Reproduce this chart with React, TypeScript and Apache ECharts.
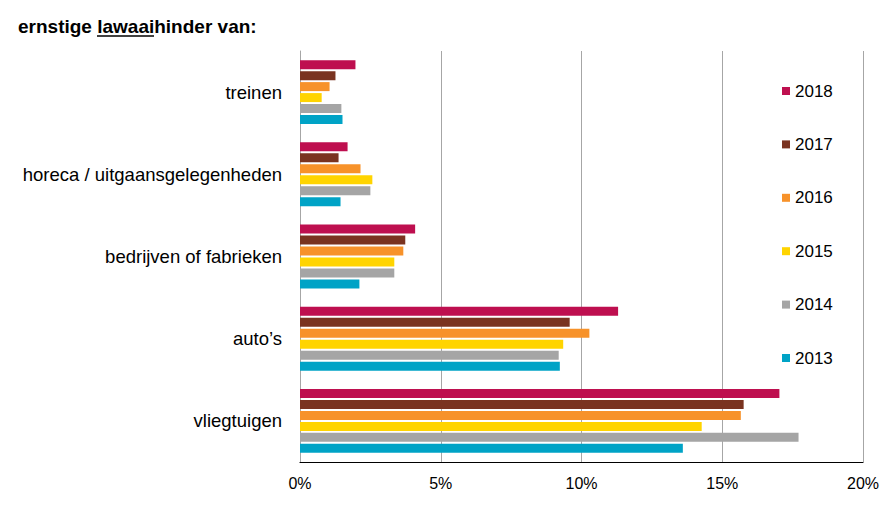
import React, { useEffect, useRef } from "react";
import * as echarts from "echarts";

const categories = [
  "treinen",
  "horeca / uitgaansgelegenheden",
  "bedrijven of fabrieken",
  "auto’s",
  "vliegtuigen",
];

const years = ["2018", "2017", "2016", "2015", "2014", "2013"];

const values2018 = [1.97, 1.69, 4.09, 11.3, 17.03];
const values2017 = [1.26, 1.37, 3.74, 9.58, 15.76];
const values2016 = [1.05, 2.15, 3.67, 10.28, 15.66];
const values2015 = [0.77, 2.57, 3.35, 9.35, 14.27];
const values2014 = [1.47, 2.5, 3.35, 9.19, 17.71];
const values2013 = [1.51, 1.44, 2.11, 9.23, 13.6];

const seriesValues = [values2018, values2017, values2016, values2015, values2014, values2013];
const colors = ["#BE0F4F", "#7A3320", "#F7922A", "#FFD400", "#A5A5A5", "#00A3C6"];

const xTicks = [0, 5, 10, 15, 20];

export default function App() {
  const ref = useRef<HTMLDivElement>(null);
  useEffect(() => {
    if (!ref.current) return;
    const chart = echarts.init(ref.current, null, { renderer: "svg" });
    const font = "'Liberation Sans', Arial, sans-serif";
    chart.setOption({
      animation: false,
      backgroundColor: "#ffffff",
      textStyle: { fontFamily: font },
      grid: { left: 300, right: 32, top: 51, bottom: 44, containLabel: false },
      xAxis: {
        type: "value",
        min: xTicks[0],
        max: xTicks[xTicks.length - 1],
        interval: 5,
        axisLine: { show: true, lineStyle: { color: "#000000", width: 1.2 } },
        axisTick: { show: false },
        axisLabel: {
          formatter: "{value}%",
          fontSize: 16,
          color: "#000000",
          margin: 13,
          fontFamily: font,
        },
        splitLine: { show: true, lineStyle: { color: "#A6A6A6", width: 1 } },
      },
      yAxis: {
        type: "category",
        data: categories,
        inverse: true,
        axisLine: { show: true, lineStyle: { color: "#A6A6A6", width: 1 } },
        axisTick: { show: false },
        axisLabel: { fontSize: 18.5, color: "#000000", margin: 18, fontFamily: font },
        splitLine: { show: false },
      },
      legend: {
        orient: "vertical",
        left: 782,
        top: 81,
        padding: 0,
        data: years,
        itemWidth: 8,
        itemHeight: 8,
        itemGap: 33.4,
        icon: "rect",
        textStyle: { fontSize: 17, color: "#000000", fontFamily: font, lineHeight: 20 },
      },
      graphic: [
        {
          type: "text",
          left: 18,
          top: 17,
          style: {
            text: "ernstige lawaaihinder van:",
            font: `bold 19px ${font}`,
            fill: "#000000",
          },
        },
        {
          type: "line",
          shape: { x1: 97, y1: 36, x2: 154, y2: 36 },
          style: { stroke: "#000000", lineWidth: 1.6 },
        },
      ],
      series: years.map((y, i) => ({
        name: y,
        type: "bar",
        data: seriesValues[i],
        barWidth: 9,
        barGap: "22%",
        itemStyle: { color: colors[i] },
      })),
    });
    return () => chart.dispose();
  }, []);
  return (
    <div
      ref={ref}
      style={{ position: "fixed", left: 0, top: 0, width: 895, height: 506 }}
    />
  );
}
